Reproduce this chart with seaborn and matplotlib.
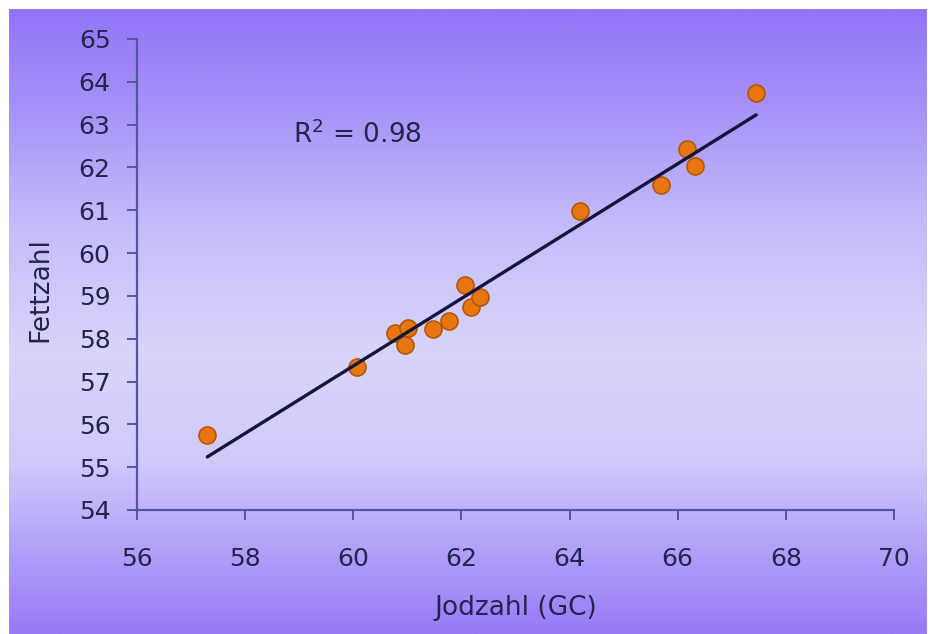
import matplotlib
matplotlib.use('Agg')
import matplotlib.pyplot as plt
from matplotlib.colors import LinearSegmentedColormap
import numpy as np
import pandas as pd
import seaborn as sns

# values
jodzahl = [57.30, 60.07, 60.77, 60.96, 61.01, 61.47, 61.77, 62.07, 62.18,
           62.34, 64.19, 65.69, 66.17, 66.32, 67.45]
fettzahl = [55.75, 57.34, 58.14, 57.86, 58.25, 58.23, 58.42, 59.26, 58.74,
            58.98, 60.99, 61.59, 62.43, 62.04, 63.74]
x_ticks = [56, 58, 60, 62, 64, 66, 68, 70]
y_ticks = [54, 55, 56, 57, 58, 59, 60, 61, 62, 63, 64, 65]
r2_label = r'R$^{2}$ = 0.98'

df = pd.DataFrame({'Jodzahl (GC)': jodzahl, 'Fettzahl': fettzahl})

sns.set_style('ticks')
plt.rcParams['font.family'] = ['DejaVu Sans']
plt.rcParams['mathtext.default'] = 'regular'

ink = '#24244e'
spine_col = '#5454a0'

fig = plt.figure(figsize=(9.32, 6.34), dpi=100, facecolor='white')

# gradient backdrop (leaves the thin white border of the scan)
bg = fig.add_axes([9 / 932, 0, 918 / 932, 625 / 634], zorder=-10)
grad = LinearSegmentedColormap.from_list('bg', [
    (0.00, '#9275f8'), (0.15, '#a590f8'), (0.35, '#c5bdfa'),
    (0.55, '#d8d5fb'), (0.72, '#d0cafb'), (0.86, '#b3a2f9'),
    (1.00, '#997af7')])
bg.imshow(np.linspace(0, 1, 256).reshape(-1, 1), aspect='auto', cmap=grad,
          extent=(0, 1, 1, 0))
bg.set_axis_off()

ax = fig.add_axes([137 / 932, 1 - 510 / 634, 757 / 932, 471 / 634])
ax.patch.set_alpha(0)

sns.regplot(data=df, x='Jodzahl (GC)', y='Fettzahl', ax=ax, ci=None,
            scatter_kws=dict(s=150, color='#e8760f', edgecolor='#b4560a',
                             linewidths=1.2, alpha=1),
            line_kws=dict(color='#15153c', lw=2.4))

ax.set_xlim(56, 70)
ax.set_ylim(54, 65)
ax.set_xticks(x_ticks)
ax.set_yticks(y_ticks)

sns.despine(ax=ax)
for side in ('left', 'bottom'):
    ax.spines[side].set_color(spine_col)
    ax.spines[side].set_linewidth(1.6)

ax.tick_params(axis='both', colors=spine_col, width=1.4, length=7,
               labelsize=18, labelcolor=ink)
ax.tick_params(axis='y', pad=12)
ax.tick_params(axis='x', pad=20)

ax.set_xlabel('Jodzahl (GC)', fontsize=19, color=ink)
ax.set_ylabel('Fettzahl', fontsize=19, color=ink)
ax.xaxis.set_label_coords(0.5, -0.18)
ax.yaxis.set_label_coords(-0.11, 0.467)

ax.text(58.89, 62.57, r2_label, fontsize=19, color=ink, ha='left',
        va='baseline')

fig.savefig('out.png', dpi=100, facecolor='white')
